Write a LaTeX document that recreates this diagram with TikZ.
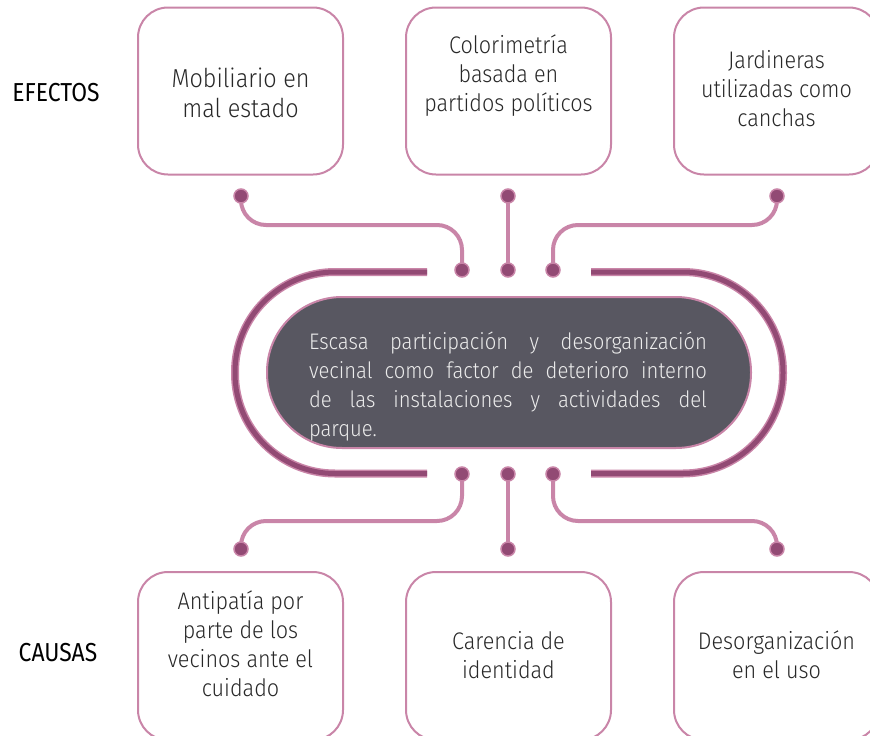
\documentclass[tikz,border=0pt]{standalone}
\usepackage{fontspec}
\IfFontExistsTF{Fira Sans Light}{\setmainfont{Fira Sans Light}[FakeStretch=0.9]}{\setmainfont{Fira Sans}[FakeStretch=0.9]}
\newfontfamily\labelfont{Fira Sans}[FakeStretch=0.88]
\definecolor{pinkline}{RGB}{201,133,168}
\definecolor{plum}{RGB}{146,74,116}
\definecolor{pillfill}{RGB}{88,87,97}
\definecolor{textgray}{RGB}{40,40,40}
\definecolor{coretext}{RGB}{236,236,236}
\tikzset{
  box/.style={draw=pinkline, line width=2pt, rounded corners=30pt, minimum width=205pt, minimum height=167pt, inner sep=0pt},
  boxtxt/.style={align=center, text=textgray, font=\fontsize{24}{29}\selectfont, inner sep=0pt},
  dotnode/.style={circle, fill=plum, draw=pinkline, line width=1.5pt, minimum size=14pt, inner sep=0pt},
  conn/.style={draw=pinkline, line width=4pt, rounded corners=25pt},
  bracketouter/.style={draw=pinkline, line width=8pt, rounded corners=100pt},
  bracketinner/.style={draw=plum, line width=5pt, rounded corners=100pt},
  pill/.style={draw=pinkline, line width=2pt, fill=pillfill, rounded corners=75pt, minimum width=484pt, minimum height=151pt, inner sep=0pt},
  coretxt/.style={text=coretext, text width=398pt, align=justify, inner sep=0pt, font=\fontsize{22.5}{29}\selectfont},
  lbl/.style={text=black, inner sep=0pt, font=\labelfont\fontsize{26}{30}\selectfont}
}
\begin{document}
\begin{tikzpicture}[x=1pt,y=-1pt]
\useasboundingbox (0,0) rectangle (870,736);
\clip (0,0) rectangle (870,736);

% labels
\node[lbl] (efectos) at (56,93) {EFECTOS};
\node[lbl] (causas) at (58,653) {CAUSAS};

% effect boxes
\node[box] (e1) at (240.5,91) {};
\node[box] (e2) at (508.5,91) {};
\node[box] (e3) at (776.5,91) {};
\node[boxtxt, font=\fontsize{26}{30}\selectfont] (e1t) at (240.5,93) {Mobiliario en\\mal estado};
\node[boxtxt] (e2t) at (508.5,75.5) {Colorimetría\\basada en\\partidos políticos};
\node[boxtxt] (e3t) at (776.5,89) {Jardineras\\utilizadas como\\canchas};

% cause boxes
\node[box, minimum height=168pt] (c1) at (240.5,656) {};
\node[box, minimum height=168pt] (c2) at (508.5,656) {};
\node[box, minimum height=168pt] (c3) at (776.5,656) {};
\node[boxtxt] (c1t) at (240.5,643.5) {Antipatía por\\parte de los\\vecinos ante el\\cuidado};
\node[boxtxt] (c2t) at (508.5,655.5) {Carencia de\\identidad};
\node[boxtxt] (c3t) at (776.5,654.5) {Desorganización\\en el uso};

% brackets
\coordinate (lb1) at (427,272);
\coordinate (lb2) at (235,272);
\coordinate (lb3) at (235,473.5);
\coordinate (lb4) at (427,473.5);
\coordinate (rb1) at (591,272);
\coordinate (rb2) at (783,272);
\coordinate (rb3) at (783,473.5);
\coordinate (rb4) at (591,473.5);
\path[bracketouter] (lb1) -- (lb2) -- (lb3) -- (lb4);
\path[bracketinner] (lb1) -- (lb2) -- (lb3) -- (lb4);
\path[bracketouter] (rb1) -- (rb2) -- (rb3) -- (rb4);
\path[bracketinner] (rb1) -- (rb2) -- (rb3) -- (rb4);

% central pill
\node[pill] (core) at (509,372.5) {};
\node[coretxt] (coret) at (508,386.5) {Escasa participación y desorganización\linebreak vecinal como factor de deterioro interno\linebreak de las instalaciones y actividades del\linebreak parque.};

% dots (positions)
\coordinate (pt1) at (241,196);
\coordinate (pt2) at (508,196);
\coordinate (pt3) at (777,196);
\coordinate (pm1) at (462,270);
\coordinate (pm2) at (508,270);
\coordinate (pm3) at (553,270);
\coordinate (pm4) at (462,474);
\coordinate (pm5) at (508,474);
\coordinate (pm6) at (553,474);
\coordinate (pb1) at (241,549);
\coordinate (pb2) at (508,549);
\coordinate (pb3) at (777,549);

% connectors
\path[conn] (pt1) -- ++(0,29) -| (pm1);
\path[conn] (pt2) -- (pm2);
\path[conn] (pt3) -- ++(0,29) -| (pm3);
\path[conn] (pm4) -- ++(0,47) -| (pb1);
\path[conn] (pm5) -- (pb2);
\path[conn] (pm6) -- ++(0,47) -| (pb3);

% dots
\foreach \p in {pt1,pt2,pt3,pm1,pm2,pm3,pm4,pm5,pm6,pb1,pb2,pb3}
  \node[dotnode] (d\p) at (\p) {};
\end{tikzpicture}
\end{document}
